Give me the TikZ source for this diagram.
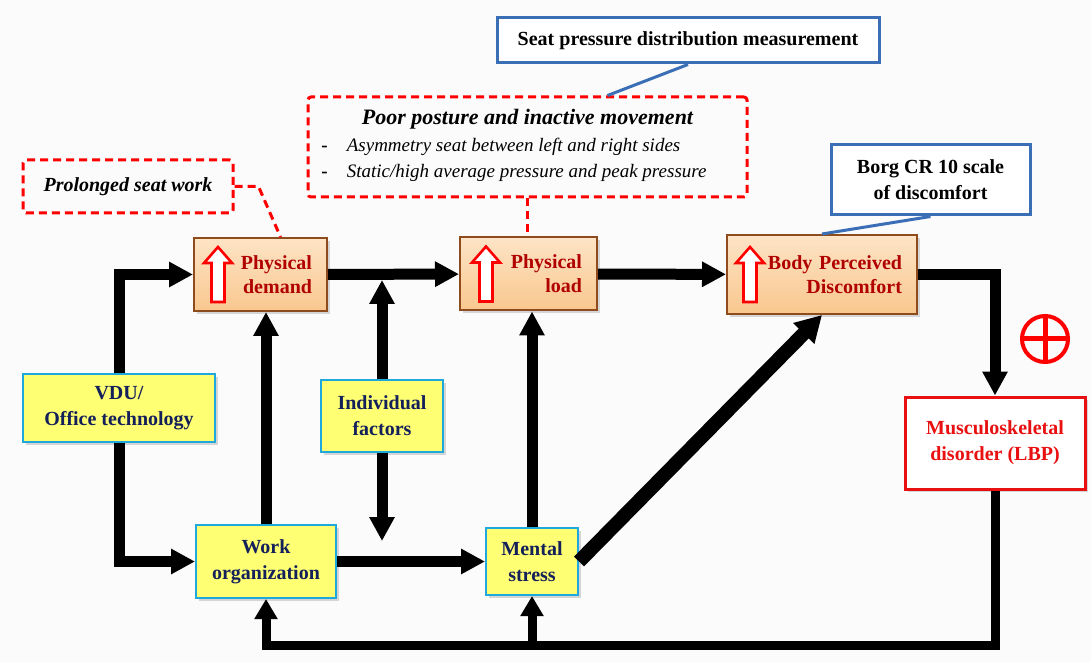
\documentclass[tikz,border=0pt]{standalone}
\usepackage{fontspec}
\setmainfont{Liberation Serif}
\usetikzlibrary{arrows.meta}
\usetikzlibrary{positioning}
\usetikzlibrary{shadows}

\definecolor{orangeTop}{HTML}{FDE4C6}
\definecolor{orangeBot}{HTML}{F9C78E}
\definecolor{brownEdge}{HTML}{8E4B1E}
\definecolor{redText}{HTML}{B00000}
\definecolor{yellowFill}{HTML}{FFFF73}
\definecolor{cyanEdge}{HTML}{1EA8DC}
\definecolor{navyText}{HTML}{14205A}
\definecolor{msdRed}{HTML}{E81010}
\definecolor{blueEdge}{HTML}{3A6FB5}

\tikzset{
  boxshadow/.style={drop shadow={shadow xshift=1.5pt,shadow yshift=-1.5pt,opacity=0.3}},
  loadbox/.style={draw=brownEdge,line width=1pt,top color=orangeTop,bottom color=orangeBot,
    text=redText,font=\fontsize{10}{12}\selectfont\bfseries,align=right,inner xsep=7.5pt,
    minimum height=36.5pt,boxshadow},
  factorbox/.style={draw=cyanEdge,line width=1pt,fill=yellowFill,text=navyText,
    font=\fontsize{10}{13}\selectfont\bfseries,align=center,inner sep=0pt,boxshadow},
  msdbox/.style={draw=msdRed,line width=1.5pt,fill=white,text=msdRed,
    font=\fontsize{10}{13}\selectfont\bfseries,align=center,inner sep=0pt,boxshadow},
  notebox/.style={draw=red,line width=1.5pt,dash pattern=on 4pt off 2.5pt,rounded corners=1.5pt,
    align=center,inner sep=0pt},
  measbox/.style={draw=blueEdge,line width=1.5pt,fill=white,
    font=\fontsize{10}{13}\selectfont\bfseries,align=center,inner sep=0pt},
  notelink/.style={draw=red,line width=1.5pt,dash pattern=on 4pt off 2.5pt},
  measlink/.style={draw=blueEdge,line width=1.5pt},
  flow/.style={line width=5.5pt,-{Triangle[length=12pt,width=12pt]}},
  flowthin/.style={line width=4.5pt,-{Triangle[length=10pt,width=11pt]}},
  bigflow/.style={line width=7pt,-{Triangle[length=13pt,width=14pt]}},
  uparrow/.pic={\draw[red,line width=1.3pt,fill=white,line join=miter]
    (-6.5,27.5) -- (-6.5,-11.5) -- (-14,-11.5) -- (0,-27.5) -- (14,-11.5) -- (6.5,-11.5) -- (6.5,27.5) -- cycle;}
}

\begin{document}
\begin{tikzpicture}[x=0.5pt,y=-0.5pt]
\useasboundingbox[fill=gray!3] (0,0) rectangle (1091,662);

% measurement boxes
\node[measbox,minimum width=191pt,minimum height=22.5pt] (seat) at (688,40.5) {Seat pressure distribution measurement};
\node[measbox,minimum width=99.5pt,minimum height=35pt] (borg) at (930.5,180) {Borg CR 10 scale\\of discomfort};

% dashed notes
\node[notebox,minimum width=219.5pt,minimum height=50pt] (poor) at (527.5,147)
  {{\fontsize{11}{13}\selectfont\bfseries\itshape Poor posture and inactive movement}\\[1pt]
   \fontsize{9.5}{13}\selectfont
   \begin{tabular}{@{}l@{\hspace{9.5pt}}l@{\hspace{13.5pt}}}
   \textbf{-} & \itshape Asymmetry seat between left and right sides\\
   \textbf{-} & \itshape Static/high average pressure and peak pressure
   \end{tabular}};
\node[notebox,minimum width=105pt,minimum height=26.5pt,font=\fontsize{10}{12}\selectfont\bfseries\itshape] (prol) at (128,186.5) {Prolonged seat work};

% load boxes
\node[loadbox,text width=51.5pt] (pd) at (260.5,274.5) {Physical\\demand};
\node[loadbox,text width=53.5pt] (pl) at (528.5,274) {Physical\\load};
\node[loadbox,text width=80pt,minimum height=39.5pt] (bpd) at (822,274.5) {Body Perceived\\Discomfort};
\pic at ([xshift=12.5pt]pd.west) {uparrow};
\pic at ([xshift=13.5pt]pl.west) {uparrow};
\pic at ([xshift=12pt]bpd.west) {uparrow};

% factor boxes
\node[factorbox,minimum width=96pt,minimum height=34pt] (vdu) at (119,408) {VDU/\\Office technology};
\node[factorbox,minimum width=61pt,minimum height=36pt] (ind) at (382,416) {Individual\\factors};
\node[factorbox,minimum width=70pt,minimum height=36.5pt] (wo) at (266,561.5) {Work\\organization};
\node[factorbox,minimum width=46pt,minimum height=33.5pt] (ms) at (532,561.5) {Mental\\stress};
\node[msdbox,minimum width=90pt,minimum height=46pt] (msd) at (995,443) {Musculoskeletal\\disorder (LBP)};

% plus sign
\node[circle,draw=red,line width=2pt,minimum size=23pt,inner sep=0pt] (plus) at (1045,339) {};
\draw[red,line width=2.5pt] (plus.north) -- (plus.south) (plus.west) -- (plus.east);

% links of the notes
\draw[measlink] (seat.south) -- ([xshift=40pt]poor.north);
\draw[measlink] (borg.south) -- (bpd.north);
\draw[notelink] (poor.south) -- (poor.south |- pl.north);
\draw[notelink] (prol.east) -- ++(24,0) -- ([xshift=10pt]pd.north);

% flows
\draw[flow] (vdu) |- (pd);
\draw[flow] (vdu) |- (wo);
\draw[flow] (wo.north) -- (wo.north |- pd.south);
\draw[flow] (pd) -- (pl);
\draw[flow] (ind.north) -- ([yshift=-2.75pt]ind.north |- pd.east);
\coordinate (indend) at (382,541);
\draw[flow] (ind.south) -- (indend);
\draw[flow] (wo) -- (ms);
\draw[flow] (ms.north) -- (ms.north |- pl.south);
\draw[bigflow] (ms.east) -- (bpd.south);
\draw[flow] (pl) -- (bpd);
\draw[flow] (bpd.east) -| (msd.north);
\coordinate (fb) at (995,645);
\draw[flowthin] (msd.south) -- (fb) -| (wo.south);
\draw[flowthin] (ms.south |- fb) -- (ms.south);

\end{tikzpicture}
\end{document}
